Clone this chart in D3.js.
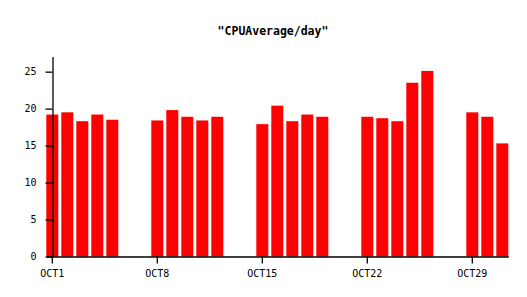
<!DOCTYPE html>
<html>
<head>
<script src="https://cdn.jsdelivr.net/npm/d3@7"></script>
<style>
  body { margin: 0; background: #fff; }
  text { font-family: "DejaVu Sans Mono", monospace; }
</style>
</head>
<body>
<div id="chart"></div>
<script>
// days of october, null = no data that day
var days = d3.range(1, 32);
var cpuAvg = [19.2, 19.5, 18.3, 19.2, 18.5, null, null,
              18.4, 19.8, 18.9, 18.4, 18.9, null, null,
              17.9, 20.4, 18.3, 19.2, 18.9, null, null,
              18.9, 18.7, 18.3, 23.5, 25.1, null, null,
              19.5, 18.9, 15.3];
var tickDays = [1, 8, 15, 22, 29];
var yTicks = [0, 5, 10, 15, 20, 25];

var width = 527, height = 297;
var svg = d3.select("#chart").append("svg")
  .attr("width", width)
  .attr("height", height);

var x = d3.scaleBand()
  .domain(days)
  .range([46.3, 508.3])
  .paddingInner(0.2)
  .paddingOuter(0);

var y = d3.scaleLinear()
  .domain([0, 27.05])
  .range([256.5, 56.5]);

svg.append("text")
  .attr("x", 273)
  .attr("y", 35)
  .attr("text-anchor", "middle")
  .style("font-size", "11.5px")
  .style("font-weight", "bold")
  .text('"CPUAverage/day"');

svg.selectAll("rect.bar")
  .data(days.filter(function(d, i) { return cpuAvg[i] != null; }))
  .enter()
  .append("rect")
  .attr("class", "bar")
  .attr("x", function(d) { return x(d); })
  .attr("width", x.bandwidth())
  .attr("y", function(d) { return y(cpuAvg[d - 1]); })
  .attr("height", function(d) { return y(0) - y(cpuAvg[d - 1]); })
  .attr("fill", "#ff0000");

// y axis
var yAxis = svg.append("g")
  .attr("transform", "translate(52.5,0)")
  .call(d3.axisLeft(y).tickValues(yTicks).tickSize(7).tickPadding(9).tickSizeOuter(0));
yAxis.select(".domain").attr("stroke", "#000").attr("stroke-width", 1.3);
yAxis.selectAll("line").attr("stroke-width", 1.3);
yAxis.selectAll("text").style("font-size", "10px").attr("fill", "#000");

// x axis
var xAxis = svg.append("g")
  .attr("transform", "translate(0,256.5)")
  .call(d3.axisBottom(x).tickValues(tickDays).tickSize(7).tickPadding(6).tickSizeOuter(0)
    .tickFormat(function(d) { return "OCT" + d; }));
xAxis.select(".domain").attr("stroke", "#000").attr("stroke-width", 1.3);
xAxis.selectAll("line").attr("stroke-width", 1.3);
xAxis.selectAll("text").style("font-size", "10px").attr("fill", "#000");
</script>
</body>
</html>
